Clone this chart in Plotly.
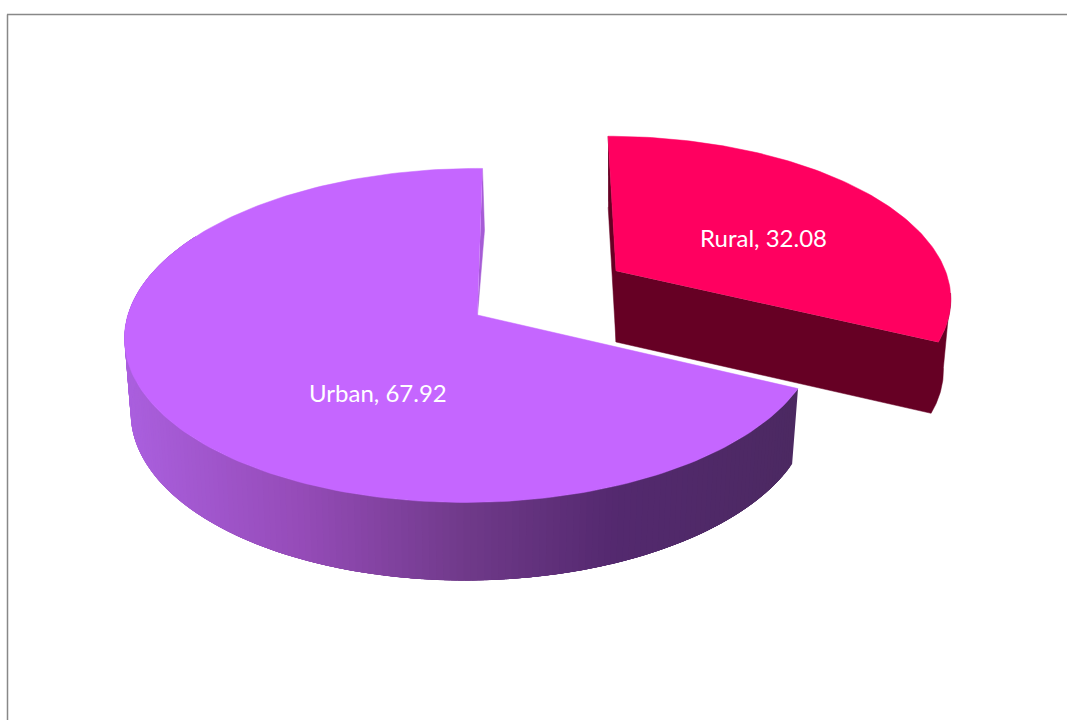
import numpy as np
import plotly.graph_objects as go

# ---- data ----
categories = ["Rural", "Urban"]
values = [32.08, 67.92]
top_colors = ["#ff0060", "#c566ff"]

# ---- style / geometry of the tilted view ----
W, H = 1067, 720
FRAME = "#888888"
RURAL_WALL = "#660024"
URBAN_GRAD = [(124, "#ab60df"), (300, "#964cb9"), (470, "#703a8a"), (620, "#54296f"), (800, "#4c2a62")]
VIEW = {
    "Rural": dict(x0=616, y0=271, A=329.5, B=155, k=-9.2, p=0.15, q=0.0,
                  cx=616, shrink=0.022, d0=71, d1=0),
    "Urban": dict(x0=477.5, y0=315, A=344.1, B=164.5, k=5.6, p=0.1224, q=0.0158,
                  cx=470, shrink=0.018, d0=73.5, d1=-4.5),
}
LABEL_XY = {"Urban": (378, 392), "Rural": (763, 237)}
URBAN_CUT_SHADE = "#a65cd6"
RURAL_SILHOUETTE_DEG = 98


def project(theta_deg, v, r=1.0):
    t = np.radians(np.asarray(theta_deg, dtype=float))
    X, Y = r * np.sin(t), r * np.cos(t)
    s = 1.0 / (1 + v["p"] * Y + v["q"] * X)
    return v["x0"] + s * (v["A"] * X + v["k"] * Y), v["y0"] - s * v["B"] * Y, Y


def lower(x, y, Y, v):
    return x - v["shrink"] * (x - v["cx"]), y + v["d0"] + v["d1"] * Y


def mix(stops, x):
    xs = [a for a, _ in stops]
    rgb = [[int(c[i:i + 2], 16) for i in (1, 3, 5)] for _, c in stops]
    return "rgb(%d,%d,%d)" % tuple(np.interp(x, xs, [c[j] for c in rgb]) for j in range(3))


def poly(fig, xs, ys, color, lw=0.0):
    fig.add_trace(go.Scatter(x=list(xs), y=list(ys), mode="lines", fill="toself", fillcolor=color,
                             line=dict(color=color, width=lw), hoverinfo="skip", showlegend=False))


rural_span = 360 * values[0] / sum(values)
fig = go.Figure()

# Urban rim wall: strips drawn right to left, each reaching under the next so no seams show
ur = VIEW["Urban"]
edges = np.linspace(rural_span, 300, 181)
for i in range(len(edges) - 1):
    th = np.linspace(edges[i], min(edges[i] + 6, 300), 7)
    x, y, Y = project(th, ur)
    xl, yl = lower(x, y, Y, ur)
    poly(fig, [*x, *xl[::-1]], [*y, *yl[::-1]], mix(URBAN_GRAD, float(x[0])))

# Urban wall on the cut edge
tx, ty, _ = project(360, ur)
poly(fig, [float(tx), float(tx) + 2, float(ur["x0"])], [float(ty), float(ty) + 62, float(ur["y0"])], URBAN_CUT_SHADE, 0.5)

# Urban top
th = np.linspace(rural_span, 360, 200)
x, y, _ = project(th, ur)
poly(fig, [ur["x0"], *x], [ur["y0"], *y], top_colors[1], 0.5)

# Rural walls
ru = VIEW["Rural"]
tx, ty, tY = project(0, ru)
lx, ly = lower(tx, ty, tY, ru)
poly(fig, [float(tx), ru["x0"], ru["x0"], float(lx)], [float(ty), ru["y0"], ru["y0"] + ru["d0"], float(ly)], RURAL_WALL, 0.5)
th = np.linspace(RURAL_SILHOUETTE_DEG, rural_span, 30)
x, y, Y = project(th, ru)
xl, yl = lower(x, y, Y, ru)
poly(fig, [ru["x0"], *x[::-1], *xl, ru["x0"]], [ru["y0"], *y[::-1], *yl, ru["y0"] + ru["d0"]], RURAL_WALL, 0.5)

# Rural top
th = np.linspace(0, rural_span, 120)
x, y, _ = project(th, ru)
poly(fig, [ru["x0"], *x], [ru["y0"], *y], top_colors[0], 0.5)

annotations = [dict(x=LABEL_XY[c][0], y=LABEL_XY[c][1], xref="x", yref="y", text=f"{c}, {v}", showarrow=False,
                    font=dict(family="Lato", size=24, color="white"), xanchor="center", yanchor="middle")
               for c, v in zip(categories, values)]

fig.update_layout(
    width=W, height=H, margin=dict(l=0, r=0, t=0, b=0), autosize=False,
    paper_bgcolor="white", plot_bgcolor="white", showlegend=False, annotations=annotations,
    xaxis=dict(range=[0, W], visible=False, fixedrange=True),
    yaxis=dict(range=[H, 0], visible=False, fixedrange=True),
    shapes=[dict(type="line", xref="x", yref="y", x0=7.5, x1=7.5, y0=14.5, y1=H, line=dict(color=FRAME, width=1.5)),
            dict(type="line", xref="x", yref="y", x0=7, x1=W, y0=14.5, y1=14.5, line=dict(color=FRAME, width=1.5))],
)
fig.write_html("out.html", config={"displayModeBar": False},
               post_script="document.body.style.margin='0';document.documentElement.style.overflow='hidden';")
